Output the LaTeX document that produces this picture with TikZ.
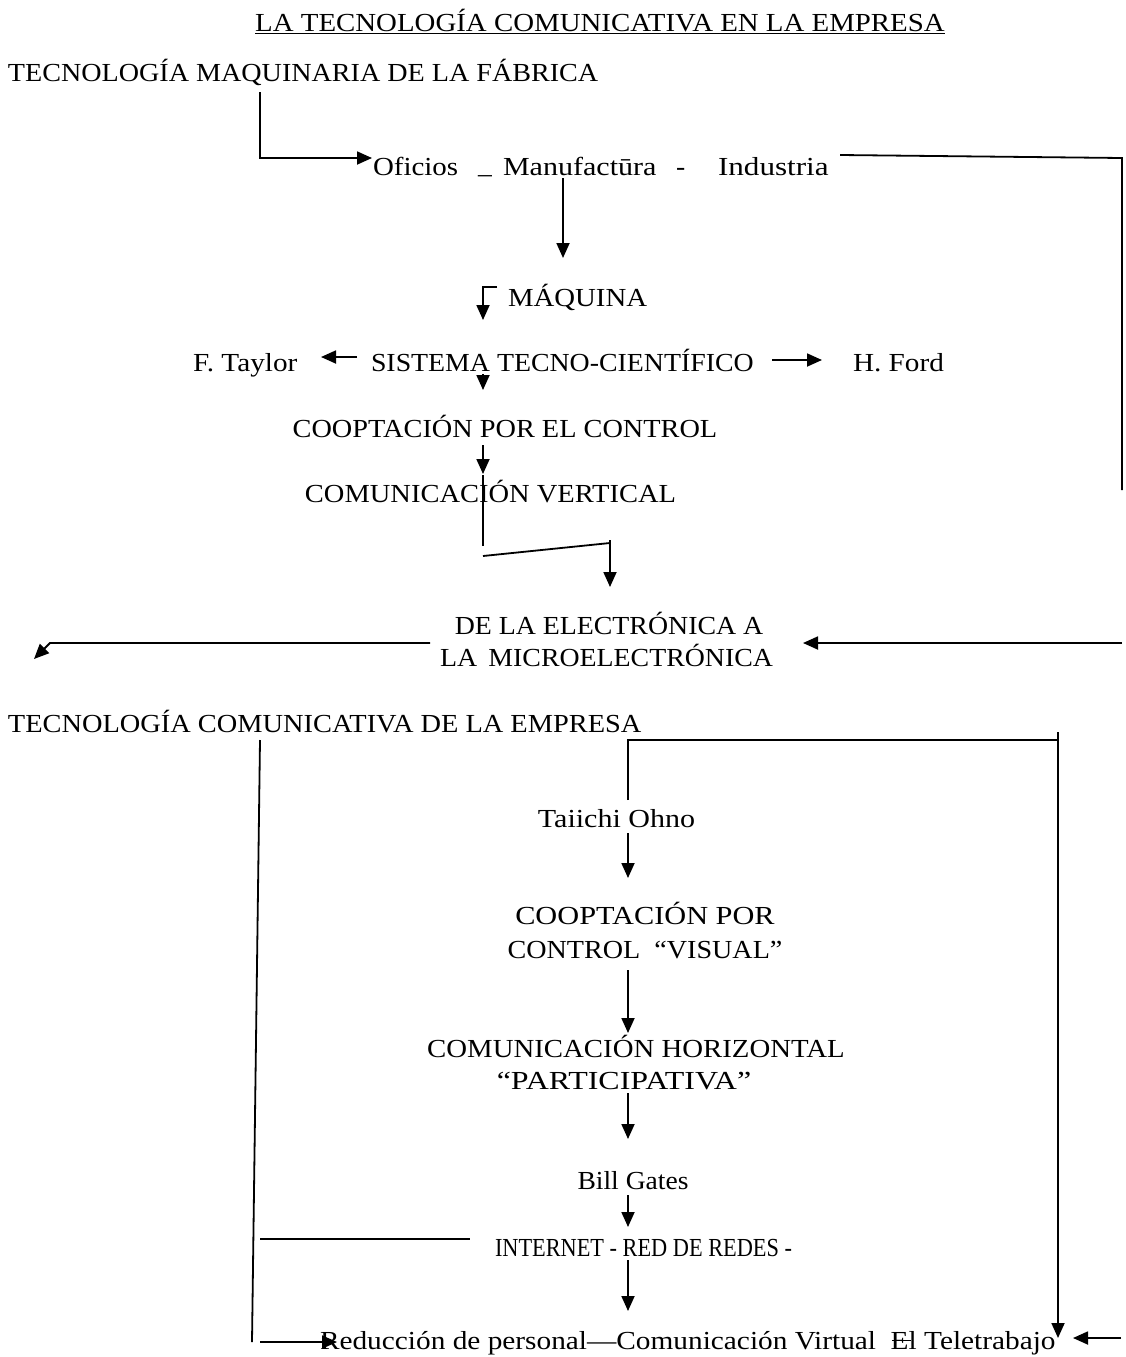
\documentclass[tikz,border=0pt]{standalone}
\usepackage{fontspec}
\usepackage{graphicx}
\setmainfont[FakeStretch=1.06]{Liberation Serif}
\usetikzlibrary{arrows.meta}
\newcommand{\hs}[2]{\scalebox{#1}[1]{#2}}
\tikzset{
  txt/.style={inner sep=0pt, outer sep=0pt, font=\fontsize{26}{30}\selectfont},
  ln/.style={line width=1.8pt, black},
  arr/.style={ln, -{Triangle[length=15pt,width=13pt]}},
}
\begin{document}
\begin{tikzpicture}[x=1pt,y=-1pt]
\useasboundingbox (0,0) rectangle (1125,1357);
% texts
\node[txt,anchor=base] (title) at (600,31) {\hs{1.047}{\underline{LA TECNOLOGÍA COMUNICATIVA EN LA EMPRESA}}};
\node[txt,anchor=base west] (maq) at (8,81) {\hs{1.02}{TECNOLOGÍA MAQUINARIA DE LA FÁBRICA}};
\node[txt,anchor=base west] (ofi) at (373,175) {\hs{1.05}{Oficios}};
\node[txt,anchor=base west] (us) at (478,173) {\_};
\node[txt,anchor=base west] (manu) at (503,175) {\hs{1.09}{Manufactūra}};
\node[txt,anchor=base west] (dash1) at (676,175) {-};
\node[txt,anchor=base west] (ind) at (718,175) {\hs{1.13}{Industria}};
\node[txt,anchor=base west] (maquina) at (508,306) {\hs{1.045}{MÁQUINA}};
\node[txt,anchor=base west] (taylor) at (193,371) {\hs{1.06}{F. Taylor}};
\node[txt,anchor=base west] (sist) at (371,371) {\hs{1.01}{SISTEMA TECNO-CIENTÍFICO}};
\node[txt,anchor=base west] (ford) at (853,371) {\hs{1.06}{H. Ford}};
\node[txt,anchor=base] (coop) at (505,437) {\hs{1.027}{COOPTACIÓN POR EL CONTROL}};
\node[txt,anchor=base] (cver) at (490.5,502) {\hs{1.034}{COMUNICACIÓN VERTICAL}};
\node[txt,anchor=base] (elec1) at (609,634) {\hs{1.01}{DE LA ELECTRÓNICA A}};
\node[txt,anchor=base] (elec2) at (606.5,666) {\hs{1.01}{LA\, MICROELECTRÓNICA}};
\node[txt,anchor=base west] (tcom) at (8,732) {\hs{1.03}{TECNOLOGÍA COMUNICATIVA DE LA EMPRESA}};
\node[txt,anchor=base] (ohno) at (616.5,827) {\hs{1.09}{Taiichi Ohno}};
\node[txt,anchor=base] (coopv1) at (645,924) {\hs{1.10}{COOPTACIÓN POR}};
\node[txt,anchor=base] (coopv2) at (645,958) {\hs{1.02}{CONTROL \ “VISUAL”}};
\node[txt,anchor=base] (chor1) at (636,1057) {\hs{1.045}{COMUNICACIÓN HORIZONTAL}};
\node[txt,anchor=base] (chor2) at (624,1089) {\hs{1.16}{“PARTICIPATIVA”}};
\node[txt,anchor=base] (gates) at (633,1189) {Bill Gates};
\node[txt,anchor=base west] (inet) at (495,1256) {\hs{0.81}{INTERNET - RED DE REDES -}};
\node[txt,anchor=base west] (red) at (320,1349) {\hs{1.064}{Reducción de personal—Comunicación Virtual \ \rlap{\hspace{0.05em}\raisebox{0.32em}{\rule{0.7em}{1pt}}}El Teletrabajo}};
% coordinates
\coordinate (a1) at (260,92);
\coordinate (a2) at (372,158);
\coordinate (b1) at (840,155);
\coordinate (b2) at (1122,158);
\coordinate (b3) at (1122,490);
\coordinate (c1) at (563,178);
\coordinate (c2) at (563,258);
\coordinate (d0) at (497,287);
\coordinate (d1) at (483,287);
\coordinate (d2) at (483,320);
\coordinate (t1) at (357,357);
\coordinate (t2) at (321,357);
\coordinate (f1) at (772,360);
\coordinate (f2) at (822,360);
\coordinate (s1) at (483,374);
\coordinate (s2) at (483,390);
\coordinate (e1) at (483,445);
\coordinate (e2) at (483,474);
\coordinate (g1) at (483,475);
\coordinate (g2) at (483,546);
\coordinate (g3) at (483,556);
\coordinate (g4) at (610,543);
\coordinate (g5) at (610,540);
\coordinate (g6) at (610,587);
\coordinate (h1) at (430,643);
\coordinate (h2) at (50,643);
\coordinate (h3) at (34,659);
\coordinate (i1) at (1122,643);
\coordinate (i2) at (803,643);
\coordinate (j1) at (260,740);
\coordinate (j2) at (252,1342);
\coordinate (k1) at (628,800);
\coordinate (k2) at (628,740);
\coordinate (k3) at (1058,740);
\coordinate (k4) at (1058,732);
\coordinate (k5) at (1058,1338);
\coordinate (m1) at (628,833);
\coordinate (m2) at (628,878);
\coordinate (n1) at (628,970);
\coordinate (n2) at (628,1033);
\coordinate (o1) at (628,1093);
\coordinate (o2) at (628,1139);
\coordinate (p1) at (628,1195);
\coordinate (p2) at (628,1227);
\coordinate (q1) at (628,1260);
\coordinate (q2) at (628,1311);
\coordinate (r1) at (260,1239);
\coordinate (r2) at (470,1239);
\coordinate (u1) at (260,1342);
\coordinate (u2) at (337,1342);
\coordinate (v1) at (1121,1338);
\coordinate (v2) at (1073,1338);
% connectors
\draw[arr] (a1) |- (a2);
\draw[ln] (b1) -- (b2) -- (b3);
\draw[arr] (c1) -- (c2);
\draw[arr] (d0) -- (d1) -- (d2);
\draw[arr] (t1) -- (t2);
\draw[arr] (f1) -- (f2);
\draw[arr] (s1) -- (s2);
\draw[arr] (e1) -- (e2);
\draw[ln] (g1) -- (g2);
\draw[ln] (g3) -- (g4);
\draw[arr] (g5) -- (g6);
\draw[arr] (h1) -- (h2) -- (h3);
\draw[arr] (i1) -- (i2);
\draw[ln] (j1) -- (j2);
\draw[ln] (k1) -- (k2) -- (k3);
\draw[arr] (k4) -- (k5);
\draw[arr] (m1) -- (m2);
\draw[arr] (n1) -- (n2);
\draw[arr] (o1) -- (o2);
\draw[arr] (p1) -- (p2);
\draw[arr] (q1) -- (q2);
\draw[ln] (r1) -- (r2);
\draw[arr] (u1) -- (u2);
\draw[arr] (v1) -- (v2);
\end{tikzpicture}
\end{document}
